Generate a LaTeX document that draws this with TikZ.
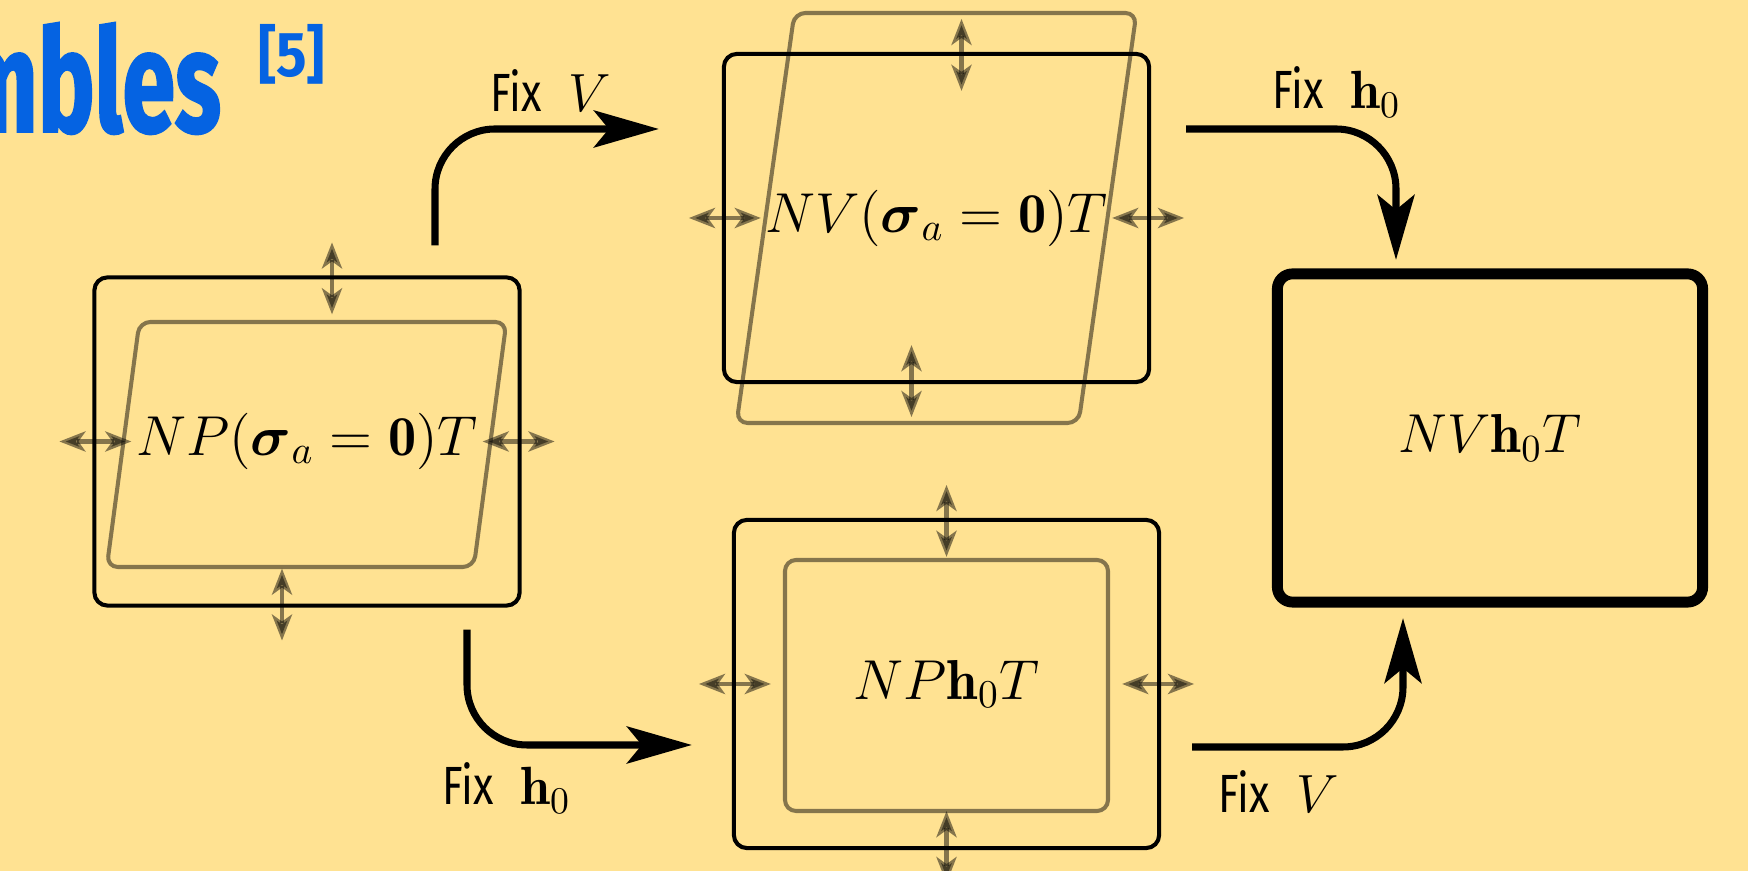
\RequirePackage{fix-cm}
\documentclass[tikz,border=0pt]{standalone}
\usepackage{amsmath}
\usepackage{fontspec}
\setsansfont[FakeStretch=0.78]{Fira Sans}
\newfontfamily\titlefont[FakeStretch=0.66,BoldFeatures={FakeBold=1.3}]{Fira Sans}
\newfontfamily\citefont[FakeStretch=0.9]{Fira Sans}
\usetikzlibrary{calc,arrows.meta}
\definecolor{ensbg}{HTML}{FFE292}
\definecolor{ensblue}{HTML}{0563E2}

\begin{document}
\begin{tikzpicture}[
    x=0.01cm, y=-0.01cm,
    every node/.style={inner sep=0pt, outer sep=0pt},
    box/.style={
      draw=black, line width=1.15pt,
      rounded corners=0.13cm,
      minimum width=4.25cm, minimum height=3.28cm,
      font=\fontsize{16}{20}\selectfont,
    },
    final/.style={box, line width=3.1pt, rounded corners=0.15cm,
      font=\fontsize{15.6}{18}\selectfont},
    cell/.style={draw=black, opacity=0.48, line width=1.15pt, rounded corners=0.11cm},
    sway/.style={
      {Stealth[length=0.26cm,width=0.2cm,inset=0.07cm]}-{Stealth[length=0.26cm,width=0.2cm,inset=0.07cm]},
      draw=black, opacity=0.48, line width=1.3pt,
    },
    fix/.style={-{Stealth[length=0.65cm,width=0.37cm,inset=0.15cm]},
      line width=2pt, rounded corners=0.6cm},
    lbl/.style={anchor=base west, font=\sffamily\fontsize{15.3}{18}\selectfont},
  ]
  \fill[ensbg] (0,0) rectangle (1748,871);
  \useasboundingbox (0,0) rectangle (1748,871);

  % title, cut at the left edge
  \node[anchor=base east, text=ensblue, font=\titlefont\bfseries\fontsize{41}{46}\selectfont] (title) at (221,132) {Ensembles};
  \node[anchor=base west, text=ensblue, font=\citefont\bfseries\fontsize{18}{20}\selectfont] (cite) at (258,77) {[5]};

  \node[box] (np) at (307,441.5) {$NP(\boldsymbol{\sigma}_a=\mathbf{0})T$};
  \node[box] (nv) at (936.5,218) {$NV(\boldsymbol{\sigma}_a=\mathbf{0})T$};
  \node[box] (nph) at (946.5,684) {$NP\mathbf{h}_0T$};
  \node[final] (nvh) at (1490,438) {$NV\mathbf{h}_0T$};

  % inner cells
  \begin{scope}[shift={(np.center)}, xslant=0.133]
    \draw[cell] (-183.5,-119.5) rectangle (183.5,125.5);
  \end{scope}
  \begin{scope}[shift={(nv.center)}, xslant=0.141]
    \draw[cell] (-171,-205) rectangle (171,205);
  \end{scope}
  \draw[cell] ($(nph.center)+(-161.5,-124)$) rectangle ($(nph.center)+(161.5,127)$);

  % fluctuating walls
  \foreach \b/\dx in {np/25, nv/25, nph/0} {
    \draw[sway] ($(\b.west)+(-35,0)$) -- ($(\b.west)+(37,0)$);
    \draw[sway] ($(\b.east)+(35,0)$) -- ($(\b.east)+(-37,0)$);
    \draw[sway] ($(\b.north)+(\dx,-35)$) -- ($(\b.north)+(\dx,37)$);
    \draw[sway] ($(\b.south)+(-\dx,35)$) -- ($(\b.south)+(-\dx,-37)$);
  }

  % transitions
  \draw[fix] ($(np.north)+(128,-32)$) |- ($(nv.west)+(-65,-89)$);
  \draw[fix] ($(nv.east)+(37,-89)$) -| ($(nvh.north)+(-94,-14)$);
  \draw[fix] ($(np.south)+(160,24)$) |- ($(nph.west)+(-42,61)$);
  \draw[fix] ($(nph.east)+(33,63)$) -| ($(nvh.south)+(-87,16)$);

  \node[lbl] (fixv1) at (490,112) {Fix\hspace{0.5em}$V$};
  \node[lbl] (fixh1) at (1272,109) {Fix\hspace{0.5em}$\mathbf{h}_0$};
  \node[lbl] (fixh2) at (442,805) {Fix\hspace{0.5em}$\mathbf{h}_0$};
  \node[lbl] (fixv2) at (1218,813) {Fix\hspace{0.5em}$V$};
\end{tikzpicture}
\end{document}
